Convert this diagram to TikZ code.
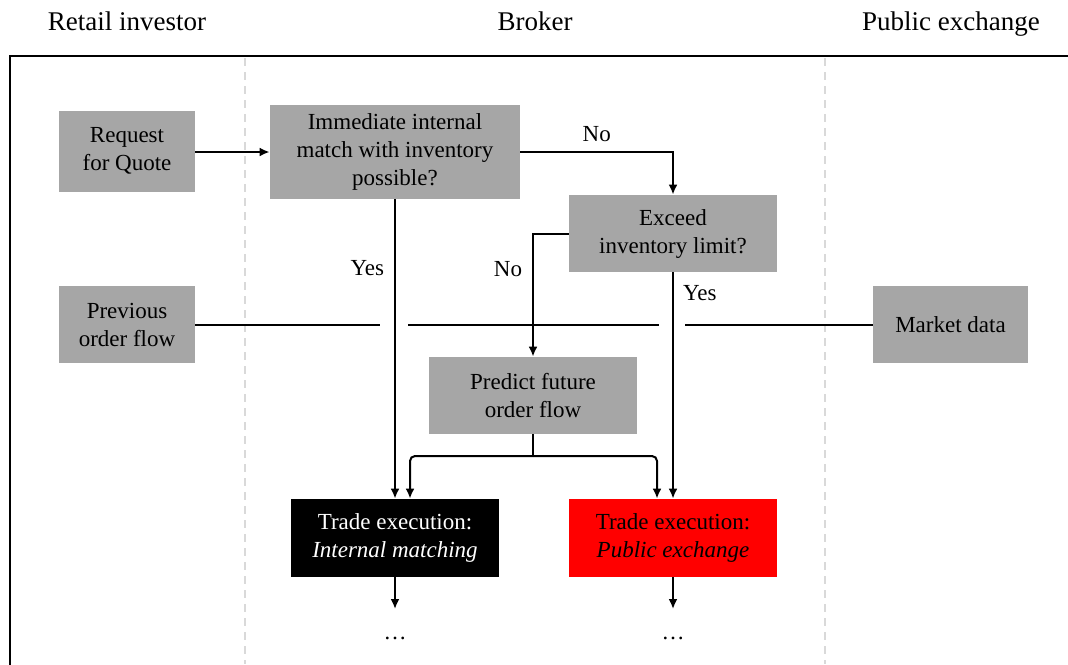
\documentclass[tikz,border=0pt]{standalone}
\usepackage{fontspec}
\setmainfont{Liberation Serif}
\usetikzlibrary{arrows.meta}
\definecolor{boxgray}{HTML}{A6A6A6}
\definecolor{lanegray}{HTML}{D9D9D9}
\begin{document}
\begin{tikzpicture}[x=0.5pt,y=-0.5pt,
  every node/.style={font=\fontsize{11.5}{14}\selectfont},
  heading/.style={anchor=base, font=\fontsize{13.5}{16}\selectfont},
  box/.style={fill=boxgray, inner sep=0pt, align=center},
  link/.style={line width=1pt, -{Latex[length=5pt,width=4.5pt]}},
  plain/.style={line width=1pt},
  lane/.style={lanegray, line width=0.75pt, dash pattern=on 4pt off 3pt},
  frame/.style={line width=1.1pt},
  lbl/.style={inner sep=0pt}]
\useasboundingbox (0,0) rectangle (1068,664);

% column headings
\node[heading] (hinv) at (127,30) {Retail investor};
\node[heading] (hbrk) at (535,30) {Broker};
\node[heading] (hpub) at (951,30) {Public exchange};

% outer frame and lane separators
\draw[frame] (10,670) -- (10,56) -- (1075,56);
\draw[lane] (245,58) -- (245,664);
\draw[lane] (825,58) -- (825,664);

% process boxes
\node[box, minimum width=68pt, minimum height=40.5pt] (rfq) at (127,151) {Request\\for Quote};
\node[box, minimum width=125pt, minimum height=47pt] (imm) at (395,152) {Immediate internal\\match with inventory\\possible?};
\node[box, minimum width=104pt, minimum height=38.5pt] (exc) at (673,233.5) {Exceed\\inventory limit?};
\node[box, minimum width=68pt, minimum height=38.5pt] (prev) at (127,324.5) {Previous\\order flow};
\node[box, minimum width=77.5pt, minimum height=38.5pt] (mkt) at (950.5,324.5) {Market data};
\node[box, minimum width=104pt, minimum height=38.5pt] (pred) at (533,395.5) {Predict future\\order flow};
\node[box, fill=black, text=white, minimum width=104pt, minimum height=39pt] (tin) at (395,538) {Trade execution:\\\textit{Internal matching}};
\node[box, fill=red, minimum width=104pt, minimum height=39pt] (tpub) at (673,538) {Trade execution:\\\textit{Public exchange}};
\node[anchor=north, inner sep=0pt, text height=15pt] (dotsA) at (395,609) {\dots};
\node[anchor=north, inner sep=0pt, text height=15pt] (dotsB) at (673,609) {\dots};

% decision flow
\draw[link] (rfq.east |- imm.west) -- (imm.west);
\draw[link] (imm.east) -| (exc.north) node[lbl, pos=0.25, above=4.5pt] {No};
\draw[link] (imm.south) -- (tin.north) node[lbl, pos=0.23, left=5pt] {Yes};
\draw[link] (exc.west) -| (pred.north) node[lbl, pos=0.645, left=5pt] {No};
\draw[link] (exc.south) -- (tpub.north) node[lbl, pos=0.09, right=4.5pt] {Yes};

% prediction feeds both execution venues
\coordinate (fork) at (533,456);
\draw[plain] (pred.south) -- (fork);
\draw[link, rounded corners=2.5pt] (fork) -| ([xshift=7.5pt]tin.north);
\draw[link, rounded corners=2.5pt] (fork) -| ([xshift=-8pt]tpub.north);

% order flow and market data line, hopping over the vertical arrows
\coordinate (hopA) at (prev.east -| tin.north);
\coordinate (hopB) at (prev.east -| tpub.north);
\draw[plain] (prev.east) -- ([xshift=-7.5pt]hopA);
\draw[plain] ([xshift=6.5pt]hopA) -- ([xshift=-7pt]hopB);
\draw[plain] ([xshift=6pt]hopB) -- (mkt.west);

% continuation after execution
\draw[link] (tin.south) -- (dotsA.north);
\draw[link] (tpub.south) -- (dotsB.north);
\end{tikzpicture}
\end{document}
